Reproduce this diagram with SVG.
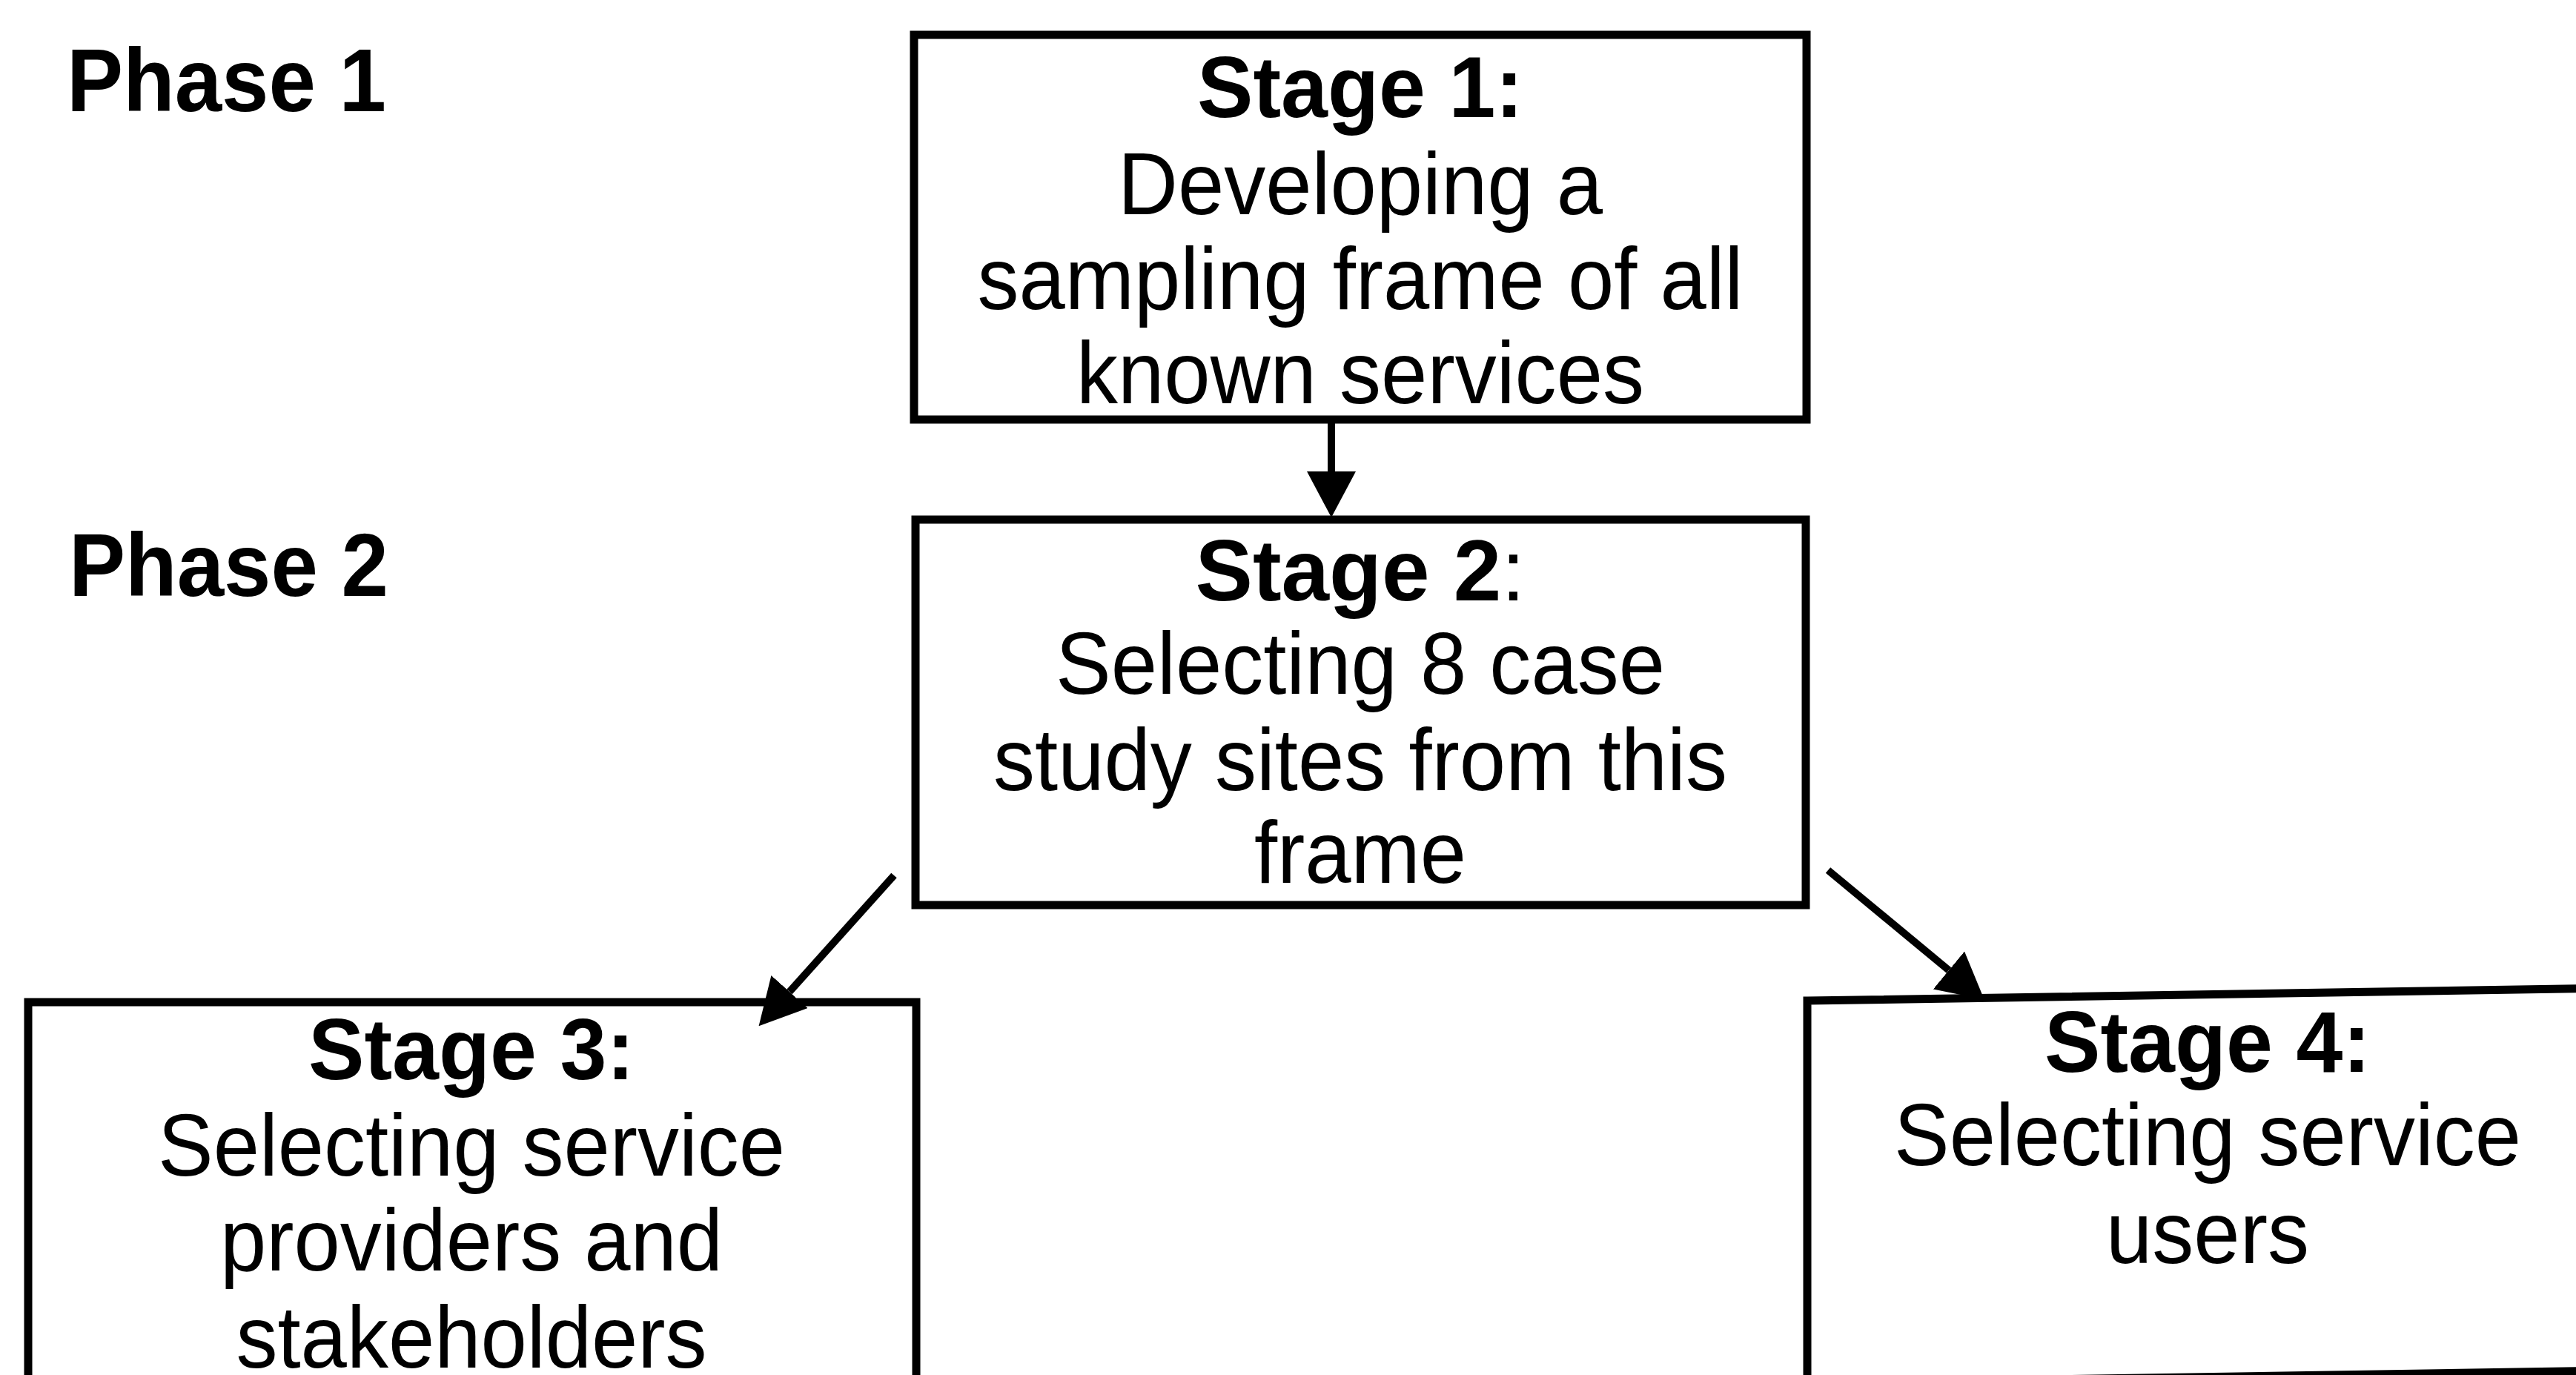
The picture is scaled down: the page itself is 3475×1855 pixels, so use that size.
<svg xmlns="http://www.w3.org/2000/svg" width="3475" height="1855" viewBox="0 0 3475 1855">
  <style>
    .box { fill: #ffffff; stroke: #000000; stroke-width: 11; }
    .edge { stroke: #000000; stroke-width: 10; fill: none; }
    .phase { font-family: "Liberation Sans", Arial, sans-serif; font-weight: bold; font-size: 120px; fill: #000000; }
    .title { font-family: "Liberation Sans", Arial, sans-serif; font-weight: bold; font-size: 116px; fill: #000000; text-anchor: middle; }
    .body { font-family: "Liberation Sans", Arial, sans-serif; font-size: 119px; fill: #000000; text-anchor: middle; }
  </style>
  <defs>
    <marker id="head" viewBox="0 0 62 66" refX="0" refY="33" markerWidth="62" markerHeight="66" markerUnits="userSpaceOnUse" orient="auto">
      <path d="M0,0 L62,33 L0,66 Z" fill="#000000"/>
    </marker>
  </defs>

  <rect x="0" y="0" width="3475" height="1855" fill="#ffffff"/>

  <!-- phase labels -->
  <g id="phase1">
    <text class="phase" x="90" y="150" textLength="431" lengthAdjust="spacingAndGlyphs">Phase 1</text>
  </g>
  <g id="phase2">
    <text class="phase" x="93" y="804" textLength="431" lengthAdjust="spacingAndGlyphs">Phase 2</text>
  </g>

  <!-- Stage 1 -->
  <g id="stage1">
    <rect class="box" x="1233" y="47" width="1204" height="519"/>
    <text class="title" x="1835" y="158" textLength="440" lengthAdjust="spacingAndGlyphs">Stage 1:</text>
    <text class="body" x="1835" y="289" textLength="654" lengthAdjust="spacingAndGlyphs">Developing a</text>
    <text class="body" x="1835" y="417" textLength="1033" lengthAdjust="spacingAndGlyphs">sampling frame of all</text>
    <text class="body" x="1835" y="544" textLength="766" lengthAdjust="spacingAndGlyphs">known services</text>
  </g>

  <!-- Stage 2 -->
  <g id="stage2">
    <rect class="box" x="1235" y="701" width="1201" height="520"/>
    <text class="title" x="1835" y="810"><tspan>Stage 2</tspan><tspan font-weight="normal">:</tspan></text>
    <text class="body" x="1835" y="936" textLength="822" lengthAdjust="spacingAndGlyphs">Selecting 8 case</text>
    <text class="body" x="1835" y="1066" textLength="990" lengthAdjust="spacingAndGlyphs">study sites from this</text>
    <text class="body" x="1835" y="1191" textLength="286" lengthAdjust="spacingAndGlyphs">frame</text>
  </g>

  <!-- Stage 3 (lower edge runs past the page) -->
  <g id="stage3">
    <rect class="box" x="38" y="1352" width="1198" height="560"/>
    <text class="title" x="636" y="1456" textLength="440" lengthAdjust="spacingAndGlyphs">Stage 3:</text>
    <text class="body" x="636" y="1586" textLength="846" lengthAdjust="spacingAndGlyphs">Selecting service</text>
    <text class="body" x="636" y="1714" textLength="678" lengthAdjust="spacingAndGlyphs">providers and</text>
    <text class="body" x="636" y="1845" textLength="635" lengthAdjust="spacingAndGlyphs">stakeholders</text>
  </g>

  <!-- Stage 4 (right side runs past the page; top and bottom edges rise slightly to the right) -->
  <g id="stage4">
    <path class="box" d="M2438,1350 L3530,1333 L3530,1849 L2438,1866 Z"/>
    <text class="title" x="2978" y="1446" textLength="440" lengthAdjust="spacingAndGlyphs">Stage 4:</text>
    <text class="body" x="2978" y="1572" textLength="846" lengthAdjust="spacingAndGlyphs">Selecting service</text>
    <text class="body" x="2978" y="1704" textLength="274" lengthAdjust="spacingAndGlyphs">users</text>
  </g>

  <!-- connectors -->
  <g id="connectors">
    <line class="edge" x1="1796" y1="566" x2="1796" y2="636" marker-end="url(#head)"/>
    <line class="edge" x1="1206" y1="1181" x2="1065" y2="1338" marker-end="url(#head)"/>
    <line class="edge" x1="2466" y1="1174" x2="2629" y2="1309" marker-end="url(#head)"/>
  </g>
</svg>
